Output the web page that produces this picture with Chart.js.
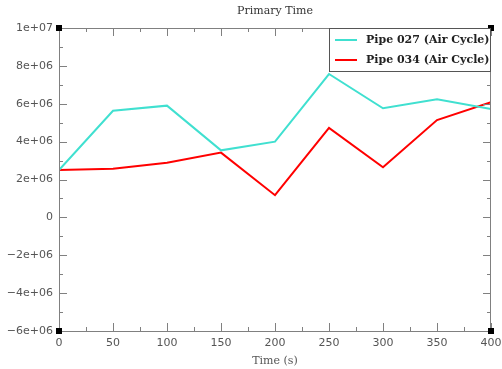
<!DOCTYPE html>
<html lang="en">
<head>
    <meta charset="UTF-8">
    <title>Primary Time</title>
    <style>
        body { margin: 0; background: #fff; }
        #wrap { width: 502px; height: 369px; }
    </style>
</head>
<body>
    <div id="wrap">
        <canvas id="myChart"></canvas>
    </div>

    <script src="https://cdn.jsdelivr.net/npm/chart.js"></script>
    <script>
        // values
        const times = [0, 50, 100, 150, 200, 250, 300, 350, 400];
        const pipe027 = [2.50e6, 5.63e6, 5.90e6, 3.54e6, 4.00e6, 7.57e6, 5.76e6, 6.24e6, 5.72e6];
        const pipe034 = [2.50e6, 2.57e6, 2.89e6, 3.42e6, 1.17e6, 4.72e6, 2.65e6, 5.14e6, 6.08e6];
        const seriesNames = ['Pipe 027 (Air Cycle)', 'Pipe 034 (Air Cycle)'];

        const ctx = document.getElementById('myChart');
        const axisGrey = '#808080';

        // 8e+06 style labels
        const sciLabel = (v) => {
            if (v === 0) return '0';
            const parts = v.toExponential().split('e');
            const sign = parts[1][0] === '-' ? '-' : '+';
            const exp = parts[1].replace(/[+-]/, '').padStart(2, '0');
            return parts[0].replace('-', '\u2212') + 'e' + sign + exp;
        };

        const toPoints = (ys) => times.map((t, i) => ({ x: t, y: ys[i] }));

        // ticks pointing inward, frame, corner squares and boxed legend
        const framePlugin = {
            id: 'frame',
            afterDatasetsDraw(chart) {
                const c = chart.ctx;
                const a = chart.chartArea;
                const xs = chart.scales.x;
                const ys = chart.scales.y;
                c.save();
                c.strokeStyle = axisGrey;
                c.lineWidth = 1;
                c.strokeRect(a.left + 0.5, a.top + 0.5, a.right - a.left - 1, a.bottom - a.top);

                c.beginPath();
                xs.ticks.forEach((t, i) => {
                    const px = Math.round(xs.getPixelForValue(t.value)) + 0.5;
                    c.moveTo(px, a.bottom); c.lineTo(px, a.bottom - 8);
                    c.moveTo(px, a.top); c.lineTo(px, a.top + 8);
                    if (i < xs.ticks.length - 1) {
                        const mx = Math.round(xs.getPixelForValue(t.value + 25)) + 0.5;
                        c.moveTo(mx, a.bottom); c.lineTo(mx, a.bottom - 4);
                        c.moveTo(mx, a.top); c.lineTo(mx, a.top + 4);
                    }
                });
                ys.ticks.forEach((t, i) => {
                    const py = Math.round(ys.getPixelForValue(t.value)) + 0.5;
                    c.moveTo(a.left, py); c.lineTo(a.left + 8, py);
                    c.moveTo(a.right, py); c.lineTo(a.right - 8, py);
                    if (i < ys.ticks.length - 1) {
                        const my = Math.round(ys.getPixelForValue(t.value + 1e6)) + 0.5;
                        c.moveTo(a.left, my); c.lineTo(a.left + 4, my);
                        c.moveTo(a.right, my); c.lineTo(a.right - 4, my);
                    }
                });
                c.stroke();

                c.fillStyle = '#000';
                [[a.left, a.top], [a.right, a.top], [a.left, a.bottom], [a.right, a.bottom]].forEach(p => {
                    c.fillRect(p[0] - 3, p[1] - 3, 6, 6);
                });

                // legend box
                const boxL = 329, boxR = a.right, boxT = a.top, boxB = 71;
                c.fillStyle = '#fff';
                c.fillRect(boxL, boxT + 1, boxR - boxL - 1, boxB - boxT - 1);
                c.strokeStyle = '#555';
                c.strokeRect(boxL + 0.5, boxT + 0.5, boxR - boxL - 1, boxB - boxT);
                c.font = 'bold 11px "DejaVu Serif"';
                c.textBaseline = 'middle';
                chart.data.datasets.forEach((ds, i) => {
                    const y = 40 + i * 20;
                    c.strokeStyle = ds.borderColor;
                    c.lineWidth = 2;
                    c.beginPath();
                    c.moveTo(335, y); c.lineTo(357, y);
                    c.stroke();
                    c.fillStyle = '#222';
                    c.fillText(ds.label, 366, y);
                });
                c.restore();
            }
        };

        new Chart(ctx, {
            type: 'line',
            data: {
                datasets: [{
                    label: seriesNames[0],
                    data: toPoints(pipe027),
                    borderColor: '#40e0d0',
                    borderWidth: 2,
                    pointRadius: 0,
                    tension: 0
                }, {
                    label: seriesNames[1],
                    data: toPoints(pipe034),
                    borderColor: '#ff0000',
                    borderWidth: 2,
                    pointRadius: 0,
                    tension: 0
                }]
            },
            options: {
                responsive: true,
                maintainAspectRatio: false,
                animation: false,
                layout: { padding: { left: 0, right: 0, top: 0, bottom: 0 } },
                plugins: {
                    legend: { display: false },
                    tooltip: { enabled: false },
                    title: {
                        display: true,
                        fullSize: false,
                        text: 'Primary Time',
                        color: '#333',
                        font: { family: '"DejaVu Serif"', size: 11, weight: 'normal' },
                        padding: { top: 5, bottom: 9.8 }
                    }
                },
                scales: {
                    x: {
                        type: 'linear',
                        min: 0,
                        max: 400,
                        grid: { display: false, drawTicks: false },
                        border: { display: false },
                        ticks: {
                            stepSize: 50,
                            padding: 6,
                            color: '#555',
                            font: { family: '"DejaVu Sans"', size: 11 }
                        },
                        title: {
                            display: true,
                            text: 'Time (s)',
                            color: '#555',
                            font: { family: '"DejaVu Serif"', size: 11 },
                            padding: { top: 0, bottom: 1 }
                        },
                        afterFit: (s) => {
                            s.height = 38;
                            s.paddingRight = 11;
                            s.paddingLeft = 0;
                        }
                    },
                    y: {
                        min: -6e6,
                        max: 1e7,
                        grid: { display: false, drawTicks: false },
                        border: { display: false },
                        ticks: {
                            stepSize: 2e6,
                            padding: 6,
                            color: '#555',
                            font: { family: '"DejaVu Sans"', size: 11 },
                            callback: (v) => sciLabel(v)
                        },
                        afterFit: (s) => { s.width = 59; }
                    }
                }
            },
            plugins: [framePlugin]
        });
    </script>
</body>
</html>
